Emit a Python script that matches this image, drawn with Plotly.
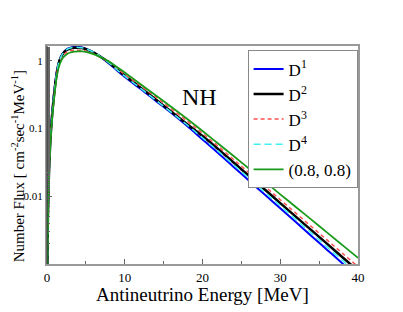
import plotly.graph_objects as go

energy = [0.05, 0.1, 0.2, 0.3, 0.4, 0.5, 0.7, 1.0, 1.3, 1.6, 2.0, 2.5, 3.0, 3.5, 4.0, 4.5, 5.0,
          6.0, 7.0, 8.0, 9.0, 10, 12, 14, 16, 18, 20, 22, 24, 26, 28, 30, 32, 34, 36, 38, 40]

flux_d1 = [0.000933, 0.00372, 0.0148, 0.0331, 0.0589, 0.0933, 0.191, 0.417, 0.741, 1.023, 1.288, 1.479, 1.567,
           1.603, 1.603, 1.578, 1.514, 1.334, 1.122, 0.912, 0.724, 0.582, 0.389, 0.257, 0.170, 0.110,
           0.0692, 0.0436, 0.0272, 0.0170, 0.0106, 0.00665, 0.00416, 0.00260, 0.00163, 0.00102, 0.000635]
flux_d2 = [0.000891, 0.00355, 0.0141, 0.0316, 0.0562, 0.0891, 0.182, 0.398, 0.708, 1.0, 1.259, 1.445, 1.531,
           1.567, 1.567, 1.549, 1.496, 1.334, 1.135, 0.944, 0.759, 0.610, 0.407, 0.269, 0.178, 0.117,
           0.0776, 0.0501, 0.0316, 0.0200, 0.0126, 0.00794, 0.00501, 0.00316, 0.00200, 0.00126, 0.000794]
flux_d3 = [0.000832, 0.00331, 0.0132, 0.0295, 0.0525, 0.0832, 0.170, 0.380, 0.692, 0.955, 1.189, 1.334, 1.413,
           1.439, 1.445, 1.429, 1.396, 1.259, 1.109, 0.944, 0.776, 0.631, 0.432, 0.292, 0.195, 0.130,
           0.0851, 0.0550, 0.0350, 0.0222, 0.0141, 0.00891, 0.00565, 0.00358, 0.00227, 0.00144, 0.000912]
flux_d4 = [0.000891, 0.00355, 0.0141, 0.0316, 0.0562, 0.0912, 0.186, 0.407, 0.724, 1.012, 1.274, 1.462, 1.549,
           1.585, 1.585, 1.567, 1.514, 1.349, 1.135, 0.933, 0.741, 0.596, 0.398, 0.263, 0.174, 0.114,
           0.0733, 0.0466, 0.0292, 0.0184, 0.0115, 0.00724, 0.00455, 0.00286, 0.00179, 0.00113, 0.000708]
flux_08 = [0.000794, 0.00316, 0.0126, 0.0282, 0.0501, 0.0794, 0.158, 0.347, 0.631, 0.871, 1.096, 1.245, 1.334,
           1.374, 1.390, 1.390, 1.365, 1.259, 1.122, 0.977, 0.813, 0.676, 0.457, 0.309, 0.209, 0.140,
           0.0923, 0.0603, 0.0394, 0.0255, 0.0166, 0.0107, 0.00697, 0.00452, 0.00293, 0.00190, 0.00123]

series_names = ["D<sup>1</sup>", "D<sup>2</sup>", "D<sup>3</sup>", "D<sup>4</sup>", "(0.8, 0.8)"]
x_ticks = [0, 10, 20, 30, 40]
y_ticks = [0.01, 0.1, 1]
y_tick_labels = ["0.01", "0.1", "1"]
x_title = "Antineutrino Energy [MeV]"
y_title = "Number Flux [ cm<sup>-2</sup>sec<sup>-1</sup>MeV<sup>-1</sup>]"

styles = [
    dict(color="#0000ff", width=2, dash="solid"),
    dict(color="#000000", width=2.5, dash="solid"),
    dict(color="#ff5050", width=1.5, dash="4px,3px"),
    dict(color="#40f0f0", width=1.5, dash="7px,4px"),
    dict(color="#1a9a1a", width=1.8, dash="solid"),
]

fig = go.Figure()
for name, ys, st in zip(series_names, [flux_d1, flux_d2, flux_d3, flux_d4, flux_08], styles):
    fig.add_trace(go.Scatter(x=energy, y=ys, mode="lines", name=name, line=st, line_shape="spline"))

font_family = "Liberation Serif"

fig.update_layout(
    width=395, height=304,
    margin=dict(l=39, r=45, t=38, b=48, autoexpand=False),
    paper_bgcolor="white", plot_bgcolor="white",
    font=dict(family=font_family, color="black"),
    showlegend=True,
    legend=dict(x=0.645, y=0.98, xanchor="left", yanchor="top",
                bordercolor="#888888", borderwidth=1, bgcolor="white",
                font=dict(size=17, family=font_family), tracegroupgap=0,
                itemwidth=30),
    xaxis=dict(range=[0, 40], tickvals=x_ticks, ticks="inside", ticklen=5, tickcolor="#666",
               minor=dict(dtick=5, ticks="inside", ticklen=3, tickcolor="#666"),
               showgrid=False, zeroline=False, showline=True, linecolor="#999999", linewidth=2,
               mirror=True, tickfont=dict(size=13, family=font_family), automargin=False),
    yaxis=dict(type="log", range=[-3, 0.221], tickvals=y_ticks, ticktext=y_tick_labels,
               ticks="inside", ticklen=5, tickcolor="#666",
               minor=dict(ticks="inside", ticklen=3, tickcolor="#666", showgrid=False),
               showgrid=False, zeroline=False, showline=True, linecolor="#999999", linewidth=2,
               mirror=True, tickfont=dict(size=11, family=font_family), automargin=False),
    annotations=[
        dict(x=0.49, y=0.766, xref="paper", yref="paper", text="NH", showarrow=False,
             font=dict(size=24, family=font_family), xanchor="center", yanchor="middle"),
        dict(x=0.5, y=-0.14, xref="paper", yref="paper", text=x_title, showarrow=False,
             font=dict(size=19, family=font_family), xanchor="center", yanchor="middle"),
        dict(x=-0.095, y=0.45, xref="paper", yref="paper", text=y_title, showarrow=False,
             textangle=-90, font=dict(size=15, family=font_family), xanchor="center", yanchor="middle"),
    ],
    shapes=[dict(type="line", xref="paper", yref="paper", x0=0, x1=0, y0=0, y1=1,
                 line=dict(color="#333333", width=1))],
)

fig.write_html("out.html")
